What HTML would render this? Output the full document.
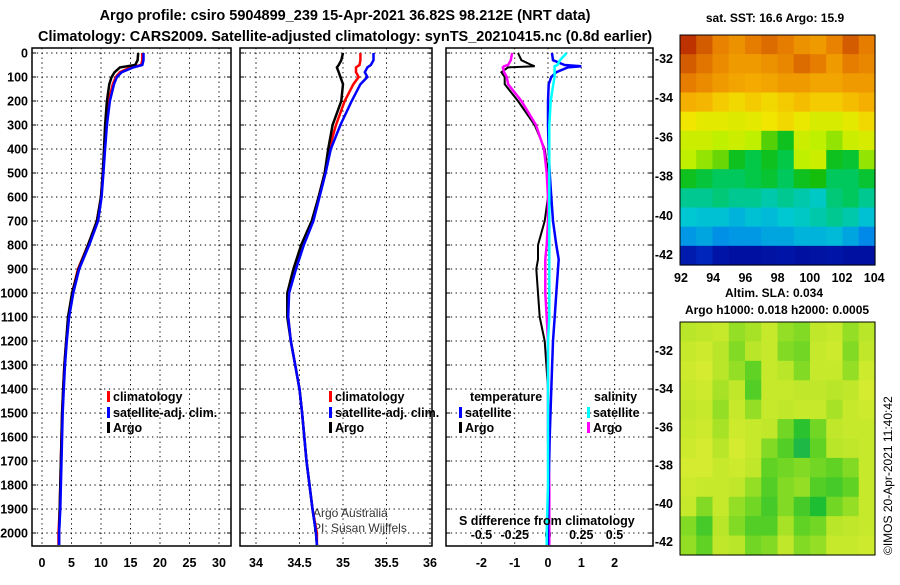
<!DOCTYPE html>
<html><head><meta charset="utf-8"><style>
body{margin:0;background:#fff;width:900px;height:580px;overflow:hidden;font-family:"Liberation Sans",sans-serif}
svg text{font-family:"Liberation Sans",sans-serif}
</style></head><body>
<svg id="c" width="900" height="580" xmlns="http://www.w3.org/2000/svg">
<text x="345" y="20" text-anchor="middle" font-size="14.5" font-weight="bold">Argo profile: csiro 5904899_239 15-Apr-2021 36.82S 98.212E (NRT data)</text>
<text x="345" y="41" text-anchor="middle" font-size="14.5" font-weight="bold">Climatology: CARS2009. Satellite-adjusted climatology: synTS_20210415.nc (0.8d earlier)</text>
<text x="775" y="22" text-anchor="middle" font-size="12" font-weight="bold">sat. SST: 16.6 Argo: 15.9</text>
<text x="774" y="297" text-anchor="middle" font-size="12" font-weight="bold">Altim. SLA: 0.034</text>
<text x="777" y="314" text-anchor="middle" font-size="12" font-weight="bold">Argo h1000: 0.018 h2000: 0.0005</text>
<text transform="translate(892,555) rotate(-90)" font-size="12">©IMOS 20-Apr-2021 11:40:42</text>
<text x="313" y="517" font-size="12" fill="#333">Argo Australia</text>
<text x="313" y="532" font-size="12" fill="#333">PI: Susan Wijffels</text>
<g id="g"></g>
</svg>
<script>
// depth profile data
const depths = [0,30,50,60,80,100,130,200,300,400,500,600,700,800,900,1000,1100,1200,1300,1400,1500,1700,1900,2000,2050];
const tempArgo = [16.3,16.2,15.8,13.2,12.3,11.8,11.4,11.0,10.7,10.5,10.3,10.0,9.3,7.8,6.2,5.1,4.4,4.1,3.8,3.6,3.4,3.2,3.0,2.9,2.9];
const tempClim = [17.0,17.0,16.8,15.0,13.2,12.5,12.0,11.3,10.9,10.6,10.3,10.0,9.3,7.8,6.1,5.1,4.5,4.1,3.8,3.6,3.4,3.2,3.0,2.8,2.8];
const tempSat  = [17.2,17.2,17.0,15.5,13.5,12.7,12.2,11.5,11.0,10.7,10.4,10.1,9.5,8.0,6.3,5.3,4.6,4.2,3.9,3.7,3.5,3.3,3.1,2.9,2.9];
const salArgo = [35.00,34.98,34.95,34.93,34.95,34.97,35.0,34.98,34.88,34.83,34.79,34.72,34.64,34.52,34.43,34.36,34.36,34.40,34.45,34.50,34.53,34.58,34.65,34.69,34.70];
const salClim = [35.20,35.20,35.19,35.15,35.15,35.18,35.12,35.02,34.92,34.84,34.79,34.72,34.65,34.53,34.44,34.37,34.37,34.40,34.45,34.50,34.53,34.58,34.65,34.70,34.70];
const salSat  = [35.35,35.35,35.32,35.28,35.25,35.28,35.20,35.10,34.97,34.86,34.80,34.73,34.66,34.55,34.46,34.38,34.37,34.40,34.45,34.50,34.53,34.58,34.65,34.69,34.70];
// difference panel (temperature units for T, salinity units for S)
const diffDepths = [0,30,50,55,60,80,100,130,200,300,400,500,600,700,800,860,900,1000,1100,1200,1400,1600,1800,2000,2050];
const dTempArgo = [-0.9,-0.8,-0.5,-0.4,-1.2,-1.4,-1.3,-1.3,-0.9,-0.4,-0.1,0,0,-0.1,-0.3,-0.3,-0.35,-0.3,-0.25,-0.1,0,0,0,0,0];
const dTempSat  = [0.12,0.15,0.5,1.0,0.6,0.25,0.1,0.02,0,0,0.02,0.05,0.1,0.15,0.25,0.32,0.3,0.25,0.2,0.15,0.1,0.05,0.02,0,0];
const dSalArgo = [-0.27,-0.28,-0.3,-0.33,-0.34,-0.33,-0.31,-0.3,-0.2,-0.09,-0.03,-0.01,0,0,-0.01,-0.02,-0.02,-0.02,-0.01,0,0,0,0.01,0.01,0.01];
const dSalSat  = [0.14,0.09,0.07,0.05,0.05,0.05,0.05,0.04,0.02,0.01,0.01,0.01,0.01,0.01,0.01,0.01,0.01,0.01,0.01,0.0,0,0,0,-0.01,-0.01];
const depthTicks = [0,100,200,300,400,500,600,700,800,900,1000,1100,1200,1300,1400,1500,1600,1700,1800,1900,2000];
const tTicks = [0,5,10,15,20,25,30];
const sTicks = [34,34.5,35,35.5,36];
const sTickLabels = ["34","34.5","35","35.5","36"];
const dTicks = [-2,-1,0,1,2];
const dsTicks = [-0.5,-0.25,0,0.25,0.5];
// SST map grid (0=cold .. 1=warm), rows north->south
const sstGrid = [
[0.95,0.9,0.85,0.82,0.86,0.88,0.86,0.82,0.8,0.85,0.9,0.86],
[0.9,0.87,0.83,0.8,0.8,0.82,0.84,0.88,0.86,0.8,0.86,0.84],
[0.86,0.83,0.8,0.78,0.77,0.78,0.8,0.8,0.78,0.78,0.8,0.8],
[0.76,0.75,0.72,0.7,0.72,0.7,0.72,0.74,0.72,0.72,0.74,0.76],
[0.68,0.66,0.66,0.65,0.66,0.68,0.7,0.67,0.64,0.64,0.66,0.7],
[0.62,0.62,0.6,0.62,0.6,0.55,0.5,0.62,0.6,0.58,0.62,0.64],
[0.6,0.58,0.56,0.5,0.46,0.5,0.46,0.6,0.62,0.5,0.48,0.58],
[0.5,0.47,0.44,0.44,0.46,0.48,0.44,0.5,0.52,0.44,0.44,0.48],
[0.4,0.4,0.42,0.4,0.4,0.38,0.4,0.38,0.36,0.42,0.44,0.4],
[0.35,0.34,0.34,0.32,0.34,0.33,0.35,0.36,0.38,0.4,0.38,0.34],
[0.28,0.3,0.27,0.28,0.28,0.3,0.3,0.32,0.32,0.33,0.3,0.26],
[0.1,0.14,0.08,0.06,0.06,0.07,0.08,0.06,0.07,0.08,0.06,0.06]];
// SLA map grid (0=yellow .. 1=teal)
const slaGrid = [
[0.3,0.25,0.2,0.4,0.35,0.2,0.4,0.45,0.25,0.2,0.4,0.3],
[0.2,0.15,0.3,0.45,0.3,0.2,0.45,0.5,0.2,0.15,0.45,0.25],
[0.15,0.1,0.3,0.4,0.55,0.2,0.3,0.45,0.2,0.2,0.4,0.15],
[0.2,0.15,0.35,0.25,0.6,0.2,0.2,0.25,0.25,0.3,0.25,0.1],
[0.25,0.2,0.4,0.2,0.4,0.2,0.25,0.2,0.2,0.35,0.2,0.15],
[0.2,0.15,0.35,0.15,0.2,0.25,0.5,0.75,0.5,0.25,0.2,0.2],
[0.15,0.1,0.3,0.1,0.2,0.45,0.6,0.85,0.55,0.3,0.25,0.2],
[0.1,0.1,0.2,0.15,0.25,0.55,0.5,0.45,0.5,0.55,0.45,0.2],
[0.15,0.2,0.2,0.25,0.4,0.6,0.45,0.4,0.6,0.65,0.55,0.2],
[0.2,0.45,0.2,0.4,0.5,0.65,0.45,0.65,0.8,0.5,0.4,0.2],
[0.45,0.65,0.3,0.45,0.6,0.6,0.35,0.55,0.5,0.3,0.25,0.2],
[0.4,0.55,0.25,0.3,0.5,0.45,0.25,0.45,0.4,0.2,0.2,0.15]];
const latTicks = [-32,-34,-36,-38,-40,-42];
const lonTicks = [92,94,96,98,100,102,104];

const NS="http://www.w3.org/2000/svg";
const G=document.getElementById('g');
function mk(tag,attrs){const e=document.createElementNS(NS,tag);for(const k in attrs)e.setAttribute(k,attrs[k]);G.appendChild(e);return e;}
const Y=d=>53+d*0.24;
const Y0=48,Y1=546;
const xT=v=>42+v*5.9;
const xS=v=>256+(v-34)*87;
const xD=v=>548+v*33.3;
const xDS=v=>548+v*133;

function frame(x0,x1,name){
  const r=mk('rect',{x:x0,y:Y0,width:x1-x0,height:Y1-Y0,fill:'none',stroke:'#000','stroke-width':1.5});
  
  
  for(const d of depthTicks){
    const l=mk('line',{x1:x0,x2:x1,y1:Y(d),y2:Y(d),stroke:'#000','stroke-dasharray':'1.3,3.5','stroke-width':1});
    
    
    const t1=mk('line',{x1:x0,x2:x0+4,y1:Y(d),y2:Y(d),stroke:'#000'});
    
    
    const t2=mk('line',{x1:x1-4,x2:x1,y1:Y(d),y2:Y(d),stroke:'#000'});
    
    
  }
}
function vgrid(vals,fx,name,labels,ly){
  vals.forEach((v,i)=>{
    const l=mk('line',{x1:fx(v),x2:fx(v),y1:Y0,y2:Y1,stroke:'#000','stroke-dasharray':'1.3,3.5','stroke-width':1});
    
    
    if(labels){
      const t=mk('text',{x:fx(v),y:ly,'text-anchor':'middle','font-size':12.5,'font-weight':'bold'});
      t.textContent=labels[i];
      
      
    }
  });
}
function line(xs,ds,fx,color,name,w){
  const p=xs.map((v,i)=>fx(v).toFixed(1)+','+Y(ds[i]).toFixed(1)).join(' ');
  const e=mk('polyline',{points:p,fill:'none',stroke:color,'stroke-width':w||2.5});
  
  
}
frame(32,231,'temperature-panel');
frame(240,432,'salinity-panel');
frame(446,653,'difference-panel');
vgrid(tTicks,xT,'temperature',tTicks.map(String),567);
vgrid(sTicks,xS,'salinity',sTickLabels,567);
vgrid(dTicks,xD,'difference',dTicks.map(String),567);
dsTicks.forEach(v=>{
  const t=mk('text',{x:xDS(v),y:539,'text-anchor':'middle','font-size':12.5,'font-weight':'bold'});
  t.textContent=String(v);
  
  
});
depthTicks.forEach(d=>{
  const t=mk('text',{x:28,y:Y(d)+4.5,'text-anchor':'end','font-size':12.5,'font-weight':'bold'});
  t.textContent=String(d);
  
  
});
line(tempClim,depths,xT,'#f00','temp-climatology-line');
line(tempArgo,depths,xT,'#000','temp-argo-line');
line(tempSat,depths,xT,'#00f','temp-satellite-line');
line(salClim,depths,xS,'#f00','sal-climatology-line');
line(salArgo,depths,xS,'#000','sal-argo-line');
line(salSat,depths,xS,'#00f','sal-satellite-line');
line(dTempArgo,diffDepths,xD,'#000','dtemp-argo-line',2);
line(dSalArgo,diffDepths,xDS,'#f0f','dsal-argo-line',2.5);
line(dTempSat,diffDepths,xD,'#00f','dtemp-satellite-line',2.5);
line(dSalSat,diffDepths,xDS,'#0ff','dsal-satellite-line',2.5);

function legend(x,y,color,label,name){
  const r=mk('rect',{x:x,y:y-10,width:3,height:11,fill:color});
  
  
  const t=mk('text',{x:x+6,y:y,'font-size':12.5,'font-weight':'bold'});
  t.textContent=label;
  
  
}
legend(107,401,'#f00','climatology','legend-temp-climatology');
legend(107,417,'#00f','satellite-adj. clim.','legend-temp-satellite');
legend(107,432,'#000','Argo','legend-temp-argo');
legend(329,401,'#f00','climatology','legend-sal-climatology');
legend(329,417,'#00f','satellite-adj. clim.','legend-sal-satellite');
legend(329,432,'#000','Argo','legend-sal-argo');
legend(459,417,'#00f','satellite','legend-dtemp-satellite');
legend(459,432,'#000','Argo','legend-dtemp-argo');
legend(587,417,'#0ff','satellite','legend-dsal-satellite');
legend(587,432,'#f0f','Argo','legend-dsal-argo');
[[470,401,'temperature'],[594,401,'salinity'],[459,525,'S difference from climatology']].forEach(a=>{
  const t=mk('text',{x:a[0],y:a[1],'font-size':12.5,'font-weight':'bold'});
  t.textContent=a[2];
  
  
});

// colormaps
function ramp(stops,v){
  v=Math.max(0,Math.min(1,v));
  for(let i=1;i<stops.length;i++){
    if(v<=stops[i][0]){const a=stops[i-1],b=stops[i],t=(v-a[0])/(b[0]-a[0]);
      const c=[1,2,3].map(k=>Math.round(a[k]*(1-t)+b[k]*t));return `rgb(${c[0]},${c[1]},${c[2]})`;}
  }
  const l=stops[stops.length-1];return `rgb(${l[1]},${l[2]},${l[3]})`;
}
const sstStops=[[0,0,0,140],[0.15,0,40,190],[0.25,0,130,235],[0.35,0,200,210],[0.45,0,200,80],[0.52,20,190,10],[0.6,190,240,0],[0.68,240,230,0],[0.76,245,175,0],[0.86,230,125,0],[0.95,190,50,0],[1,160,10,0]];
const slaStops=[[0,225,238,50],[0.3,185,230,40],[0.55,95,210,35],[0.8,30,190,50],[1,30,165,130]];
function heat(grid,x0,y0,w,h,stops,name){
  const rows=grid.length,cols=grid[0].length,cw=w/cols,ch=h/rows;
  grid.forEach((row,i)=>row.forEach((v,j)=>{
    const r=mk('rect',{x:x0+j*cw,y:y0+i*ch,width:cw+0.6,height:ch+0.6,fill:ramp(stops,v)});
    
    
  }));
  const f=mk('rect',{x:x0,y:y0,width:w,height:h,fill:'none',stroke:'#000','stroke-width':1});
  
  
}
heat(sstGrid,680,35,195,230,sstStops,'sst-map');
heat(slaGrid,680,322,195,233,slaStops,'sla-map');
const latY1=v=>58+(-32-v)*19.6, latY2=v=>350+(-32-v)*19.1, lonX=v=>681+(v-92)*16.1;
latTicks.forEach(v=>{
  [[latY1,'sst'],[latY2,'sla']].forEach(p=>{
    const t=mk('text',{x:673,y:p[0](v)+5,'text-anchor':'end','font-size':12.5,'font-weight':'bold'});
    t.textContent=String(v);
    
    
  });
});
lonTicks.forEach(v=>{
  const t=mk('text',{x:lonX(v),y:282,'text-anchor':'middle','font-size':12.5,'font-weight':'bold'});
  t.textContent=String(v);
  
  
});
</script>
</body></html>
